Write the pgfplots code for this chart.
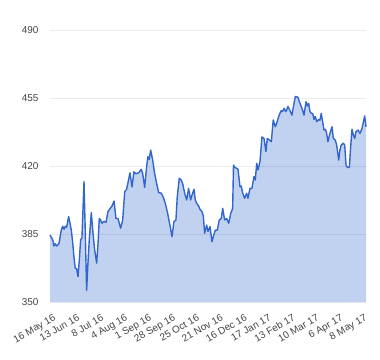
\documentclass[border=0pt]{standalone}
\usepackage{pgfplots}
\pgfplotsset{compat=1.18}
\usepackage{pgfplotstable}
\usepackage{fontspec}
\setmainfont{Liberation Sans}
\definecolor{lineblue}{HTML}{3366CC}
\definecolor{gridc}{HTML}{EBEBEB}
\definecolor{labc}{HTML}{444444}
\pgfplotstableread{
x y
0 384.5
2.3 382
3.3 378.8
4.4 380
5.6 378.8
7.5 380
9.4 387
10.6 389
11.7 387.4
12.8 389
13.9 388.5
15.6 394
16.7 390.6
17.8 387
19 380.4
20 373.3
21.1 367.3
22.3 367
23.4 363
24.5 371.6
25.6 382
26.7 383
28.4 412
29.5 385.5
30.6 356
31.7 370
32.8 382
34.5 396
35.7 387
37.3 376.8
39 370
40.1 380
41.2 393
42.3 392.2
43.4 390.6
45.1 391.5
46.8 391
48.4 396.5
50.1 398
51.8 399.4
53.5 402
55.1 393
56.8 393
59 388
60.7 392
62.4 406.8
64 408
65.7 413
66.8 416.5
68.5 409.3
70.1 417
71.8 416
74.1 416.5
76.2 418.3
77.4 416.2
79.1 409
80.7 419.6
81.8 424.8
82.9 423.4
84.1 428.2
85.8 423
87.4 416.2
89.1 411
90.8 406.3
93 406
94.6 404
96.3 400.8
98 396.5
100.2 389.6
101.9 383.6
103.5 391.3
105.2 392.2
106.3 404
108 413.7
109.6 412.8
110.8 411
112.5 406
114.2 402.5
115.8 408.5
117.5 402.5
118.6 405
120.3 408
121.4 402.5
122.5 400.8
124.2 399.4
125.3 397.7
127 396.5
128.1 394.3
129.2 385.4
130.9 389.6
132 386.2
133.7 388.8
135.3 381
136.4 383.6
138.1 387
139.8 387
141.4 392.2
143.1 393
144.3 398.2
145.9 392.2
147.6 393
149.3 390.5
151 395.6
152.6 398.2
153.3 420.5
154.3 419.3
156 418.8
157.1 418.3
158.7 409.3
159.8 409.7
161 406
162.6 403.4
164.3 406
165.4 403.4
167.1 408.5
168.7 408.5
170.4 414.5
171.5 412.8
172.7 421.4
173.8 418
175.4 422.2
177.1 435
178.8 434.2
180.4 427.4
181.5 434.2
183.2 433.4
184.9 432.5
186.5 443.7
188.2 440.2
189.4 442
191 445.4
192.1 447.1
193.2 448.5
194.4 448
195.5 449.7
197.1 448
198.8 450.6
200.5 448.5
202.1 446.2
203.8 452
204.9 455.7
205.5 455.7
207.1 455.4
208.8 452.3
210.5 449.7
212.2 446.2
213.9 453.1
215 450.9
216.1 452.3
217.2 448
218.3 447.1
219.5 447
220.5 444
221.7 445.5
222.8 442.8
224.4 444
225.5 443.5
226.6 447.1
227.8 442.8
228.9 438.5
230 438.9
231.1 436.8
232.2 432.5
233.9 436.8
235.6 440.2
236.7 434.2
238.3 433.4
239.5 430.8
241.2 423
242.2 428.2
243.3 430.8
245 431.7
246.2 430.8
247.3 420.5
248.4 419.3
250.1 419.3
251.2 430
252.3 438.9
253.4 436
254.6 434.2
255.6 437.7
257.3 438.5
259 436.8
260.7 439.4
262.9 445.8
264 440.2
}\datatable
\begin{document}
\begin{tikzpicture}
\path[use as bounding box] (-50bp,-58bp) rectangle (330bp,302bp);
\begin{axis}[
  at={(0,0)}, anchor=south west,
  scale only axis, width=316bp, height=272bp,
  xmin=0, xmax=264, ymin=350, ymax=490,
  ytick={350,385,420,455,490},
  xtick={0,20,...,260},
  xticklabels={16 May 16,13 Jun 16,8 Jul 16,4 Aug 16,1 Sep 16,28 Sep 16,25 Oct 16,21 Nov 16,16 Dec 16,17 Jan 17,13 Feb 17,10 Mar 17,6 Apr 17,8 May 17},
  ymajorgrids, grid style={gridc, line width=0.8bp},
  major tick length=0,
  tick label style={font=\fontsize{10}{12}\selectfont, text=labc},
  /pgf/number format/assume math mode=true,
  yticklabel style={anchor=east, xshift=-8bp},
  xticklabel style={rotate=30, anchor=north east, yshift=-8bp, xshift=0bp},
  axis line style={draw=none},
  clip=false,
]
\addplot[draw=none, fill=lineblue, fill opacity=0.3] table[x=x,y=y] {\datatable} \closedcycle;
\addplot[draw=lineblue, line width=1.4bp, line join=round, mark=none] table[x=x,y=y] {\datatable};
\end{axis}
\end{tikzpicture}
\end{document}
